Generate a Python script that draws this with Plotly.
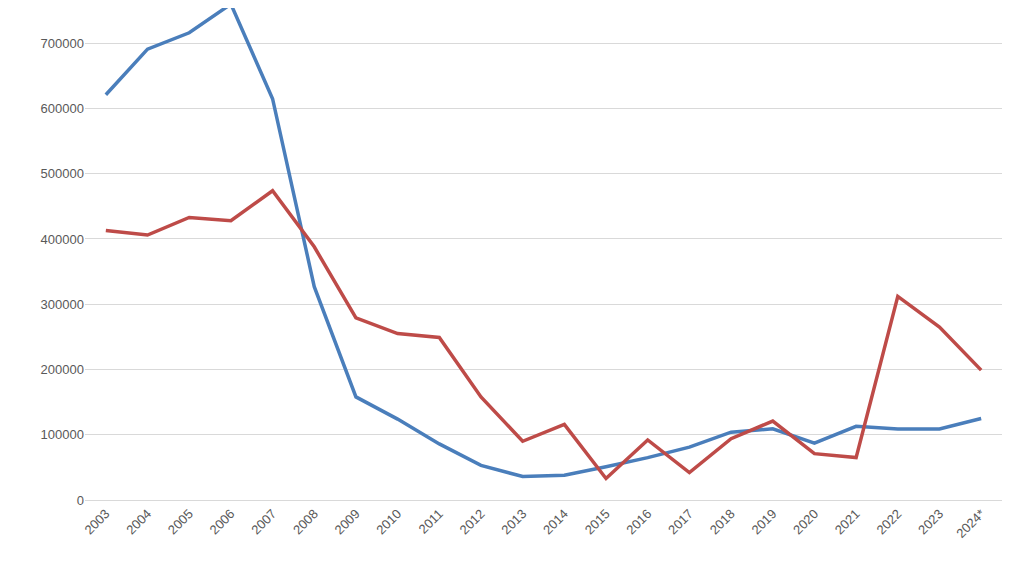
import plotly.graph_objects as go

years = ["2003","2004","2005","2006","2007","2008","2009","2010","2011","2012","2013","2014","2015","2016","2017","2018","2019","2020","2021","2022","2023","2024*"]
blue = [621000,691000,716000,760000,615000,327000,158000,124000,86000,53000,36000,38000,51000,65000,81000,104000,109000,87000,113000,109000,109000,125000]
red = [413000,406000,433000,428000,474000,388000,279000,255000,249000,158000,90000,116000,33000,92000,42000,94000,121000,71000,65000,312000,265000,199000]
tickvals = [0,100000,200000,300000,400000,500000,600000,700000]

fig = go.Figure()
fig.add_trace(go.Scatter(x=years, y=blue, mode="lines", line=dict(color="#4a7ebb", width=3.5), showlegend=False))
fig.add_trace(go.Scatter(x=years, y=red, mode="lines", line=dict(color="#be4b48", width=3.5), showlegend=False))
fig.update_layout(
    width=1024, height=576, margin=dict(l=77, r=30, t=0, b=84),
    plot_bgcolor="white", paper_bgcolor="white",
    font=dict(family="Liberation Sans, Arial", size=13, color="#595959"),
    xaxis=dict(tickangle=-45, showgrid=False, showline=True, linecolor="#d9d9d9", ticks="", range=[-0.5, 21.5]),
    yaxis=dict(range=[0, 754000], tickvals=tickvals, tickformat="d", gridcolor="#d9d9d9", zeroline=False, ticks=""),
)
fig.write_html("out.html")
